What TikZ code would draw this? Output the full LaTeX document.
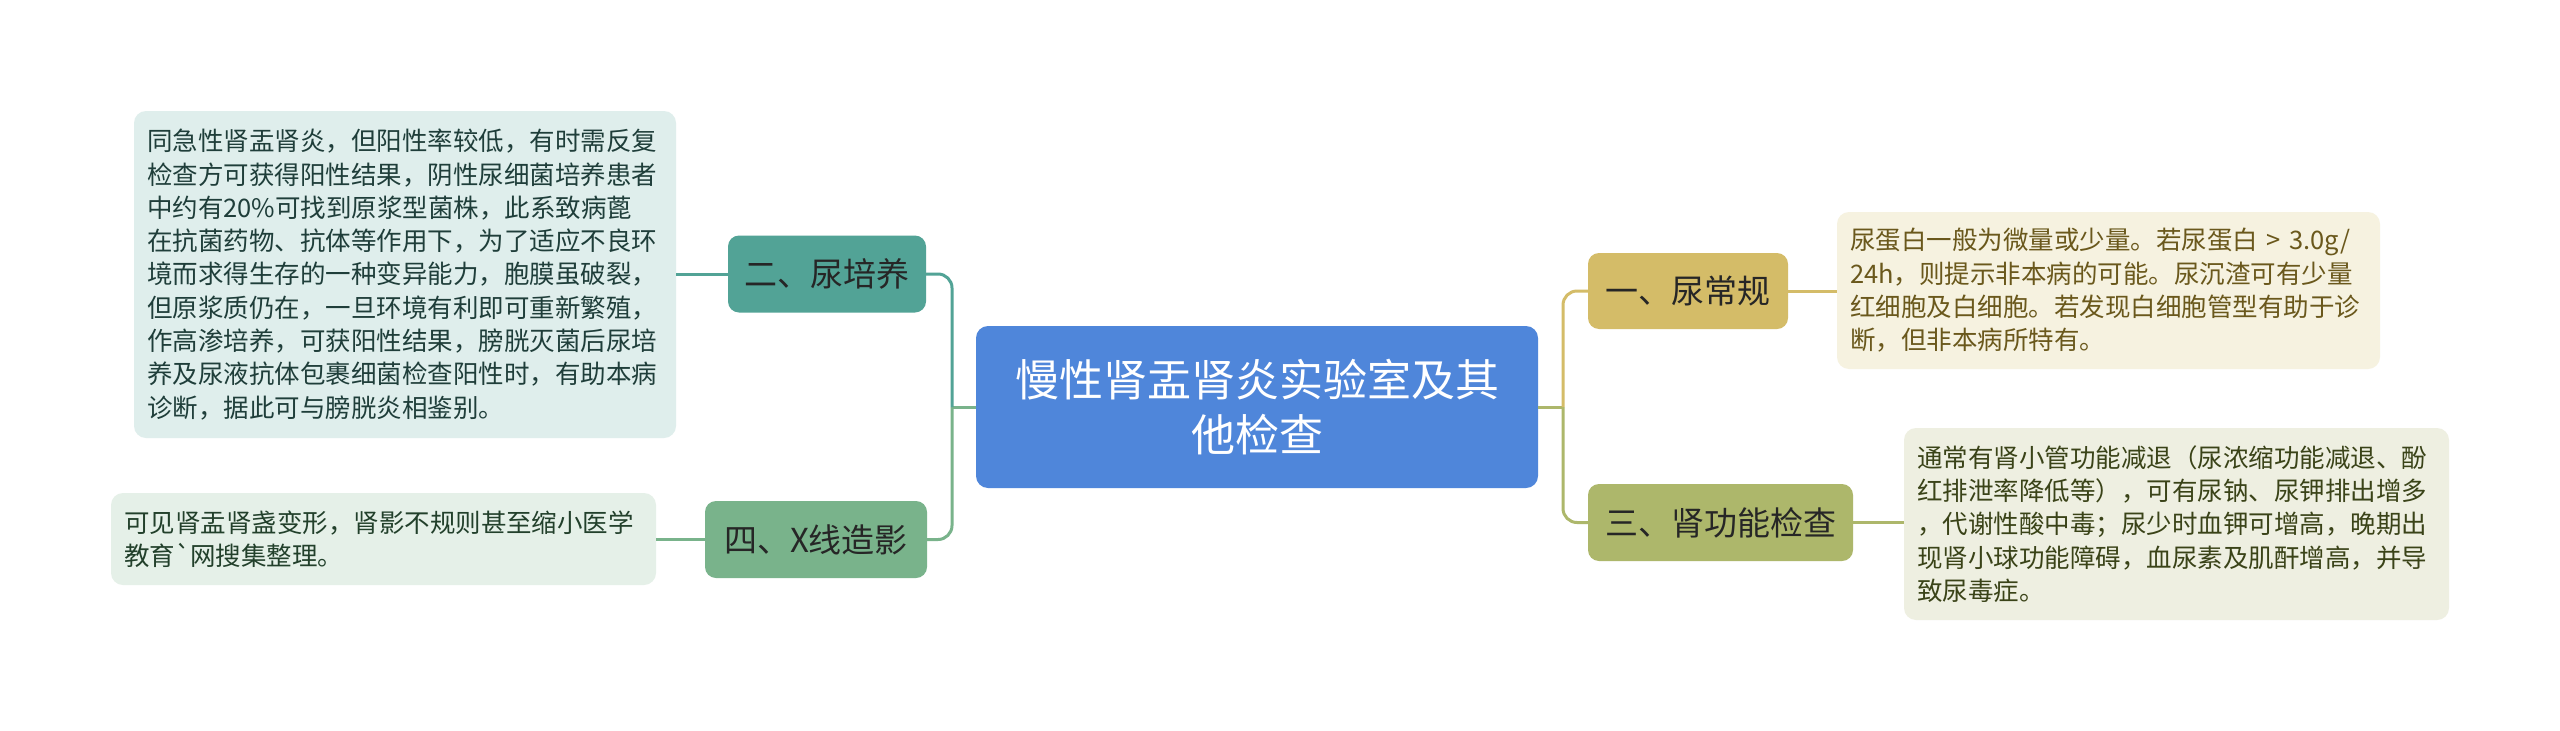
\documentclass[tikz,border=0pt]{standalone}
\usepackage{fontspec}
\newfontfamily\cjk{Noto Sans CJK SC}
\definecolor{cc}{HTML}{4F86DA}
\definecolor{ca}{HTML}{D4BC68}
\definecolor{cb}{HTML}{52A396}
\definecolor{cd}{HTML}{ADB76B}
\definecolor{ce}{HTML}{79B38B}
\definecolor{la}{HTML}{F6F2E0}
\definecolor{lb}{HTML}{DFEEEC}
\definecolor{ld}{HTML}{EEEFE1}
\definecolor{le}{HTML}{E5F0E8}
\definecolor{ta}{HTML}{6A581C}
\definecolor{tb}{HTML}{1F3E3A}
\definecolor{td}{HTML}{3A4318}
\definecolor{te}{HTML}{22402B}
\tikzset{
  mainbox/.style={rounded corners=12pt, inner sep=0pt, align=center, fill=cc, text=white,
    font=\cjk\fontsize{44}{55.5}\selectfont},
  branch/.style={rounded corners=11pt, inner sep=0pt, align=center, text=black!85,
    font=\cjk\fontsize{33}{40}\selectfont},
  leaf/.style={rounded corners=12pt, inner xsep=13pt, inner ysep=0pt, align=left,
    font=\cjk\fontsize{25.5}{33.3}\selectfont},
  conn/.style={line width=3pt},
}
\begin{document}
\begin{tikzpicture}[x=1pt,y=-1pt]
\useasboundingbox (0,0) rectangle (2560,731);
\fill[white] (0,0) rectangle (2560,731);
% central
\node[mainbox, minimum width=562pt, minimum height=162pt] (c) at (1257,407)
  {慢性肾盂肾炎实验室及其\\他检查};
% branches
\node[branch, fill=cb, minimum width=198pt, minimum height=77pt] (b2) at (827,274) {二、尿培养};
\node[branch, fill=ce, minimum width=222pt, minimum height=77pt] (b4) at (816,539.5) {四、X线造影};
\node[branch, fill=ca, minimum width=200pt, minimum height=76pt] (b1) at (1688,291) {一、尿常规};
\node[branch, fill=cd, minimum width=265pt, minimum height=77pt] (b3) at (1720.5,522.5) {三、肾功能检查};
% leaves
\node[leaf, fill=lb, text=tb, text width=516pt, minimum height=327pt] (l2) at (405,274.5)
  {同急性肾盂肾炎，但阳性率较低，有时需反复\\
   检查方可获得阳性结果，阴性尿细菌培养患者\\
   中约有20\%可找到原浆型菌株，此系致病蓖\\
   在抗菌药物、抗体等作用下，为了适应不良环\\
   境而求得生存的一种变异能力，胞膜虽破裂，\\
   但原浆质仍在，一旦环境有利即可重新繁殖，\\
   作高渗培养，可获阳性结果，膀胱灭菌后尿培\\
   养及尿液抗体包裹细菌检查阳性时，有助本病\\
   诊断，据此可与膀胱炎相鉴别。};
\node[leaf, fill=le, text=te, text width=519pt, minimum height=92pt] (l4) at (383.5,539)
  {可见肾盂肾盏变形，肾影不规则甚至缩小医学\\
   教育`网搜集整理。};
\node[leaf, fill=la, text=ta, text width=517pt, minimum height=157pt] (l1) at (2108.5,290.5)
  {尿蛋白一般为微量或少量。若尿蛋白 > 3.0g/\\
   24h，则提示非本病的可能。尿沉渣可有少量\\
   红细胞及白细胞。若发现白细胞管型有助于诊\\
   断，但非本病所特有。};
\node[leaf, fill=ld, text=td, text width=519pt, minimum height=192pt] (l3) at (2176.5,524)
  {通常有肾小管功能减退（尿浓缩功能减退、酚\\
   红排泄率降低等），可有尿钠、尿钾排出增多\\
   ，代谢性酸中毒；尿少时血钾可增高，晚期出\\
   现肾小球功能障碍，血尿素及肌酐增高，并导\\
   致尿毒症。};
% connectors
\coordinate (jl) at (952,407);
\coordinate (jr) at (1563,407);
\draw[conn, ce] (c.west) -- (jl);
\draw[conn, ce, rounded corners=14pt] (jl) |- (b4.east);
\draw[conn, cb, rounded corners=14pt] (jl) |- (b2.east);
\draw[conn, cd] (c.east) -- (jr);
\draw[conn, cd, rounded corners=14pt] (jr) |- (b3.west);
\draw[conn, ca, rounded corners=14pt] (jr) |- (b1.west);
\draw[conn, cb] (b2.west) -- (b2.west -| l2.east);
\draw[conn, ce] (b4.west) -- (b4.west -| l4.east);
\draw[conn, ca] (b1.east) -- (b1.east -| l1.west);
\draw[conn, cd] (b3.east) -- (b3.east -| l3.west);
\end{tikzpicture}
\end{document}
